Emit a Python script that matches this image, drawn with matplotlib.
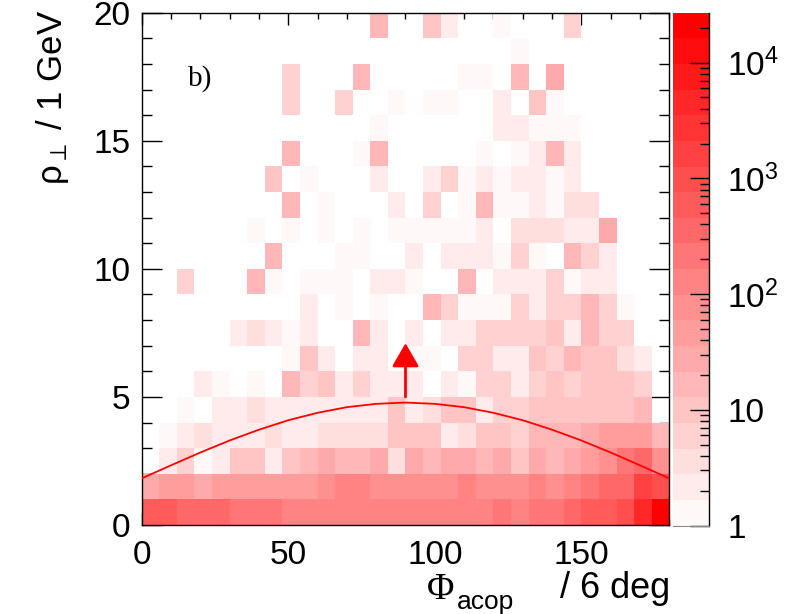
import numpy as np
import matplotlib
matplotlib.use("Agg")
import matplotlib.pyplot as plt
from matplotlib.colors import ListedColormap, LogNorm
from matplotlib.ticker import MultipleLocator, FixedLocator, FixedFormatter, LogLocator, NullFormatter

plt.rcParams['font.family'] = ['Liberation Sans', 'DejaVu Sans']
plt.rcParams['mathtext.fontset'] = 'custom'
plt.rcParams['mathtext.rm'] = 'Liberation Sans'
plt.rcParams['mathtext.it'] = 'Liberation Sans:italic'

# ---- data: counts per (pT bin row j = 0..19, phi bin column i = 0..29) ----
phi_edges = np.arange(0, 181, 6)
pt_edges = np.arange(0, 21, 1)

row00 = [580,580,350,350,350,210,210,210,125,125,125,125,125,125,125, 125,125,125,125,125,210,125,210,210,350,580,580,950,4400,27000]
row01 = [27,45,45,27,45,45,45,45,45,45,75,125,125,75,75, 75,75,75,125,75,75,75,125,75,125,210,350,350,1600,950]
row02 = [0,2,6,1,2,10,10,2,10,16,27,16,16,27,4, 27,16,27,27,16,27,10,27,16,27,45,75,210,350,75]
row03 = [0,1,2,4,2,2,2,4,2,2,4,4,4,4,10, 10,10,2,4,10,10,6,16,16,16,27,45,45,45,16]
row04 = [0,0,1,0,2,2,4,2,2,2,2,2,2,2,10, 2,4,10,10,2,6,6,10,10,10,10,10,10,16,0]
row05 = [0,0,0,2,1,0,1,0,16,6,10,2,6,2,2, 2,0,2,1,6,6,2,6,10,6,10,10,10,6,0]
row06 = [0,0,0,0,0,0,0,0,1,10,2,0,2,2,0, 1,1,0,6,6,2,2,10,6,16,10,10,4,2,0]
row07 = [0,0,0,0,0,2,4,2,1,2,0,0,16,2,0, 2,0,2,2,6,6,6,6,10,2,16,6,6,0,0]
row08 = [0,0,0,0,0,0,0,0,0,2,0,1,0,1,0, 0,16,6,1,1,1,6,2,6,6,16,6,1,0,0]
row09 = [0,0,6,0,0,0,16,1,0,1,1,1,0,2,2, 1,0,0,16,0,2,2,2,6,1,2,2,0,0,0]
row10 = [0,0,0,0,0,0,0,16,0,0,0,1,1,0,0, 2,0,2,2,2,1,6,1,0,16,6,2,0,0,0]
row11 = [0,0,0,0,0,0,1,0,1,0,1,0,1,0,1, 1,1,1,1,2,0,4,4,4,2,2,27,0,0,0]
row12 = [0,0,0,0,0,0,0,0,16,0,1,0,0,0,2, 0,6,0,1,16,1,1,2,1,4,4,0,0,0,0]
row13 = [0,0,0,0,0,0,0,10,0,1,0,0,0,2,0, 0,2,6,1,2,1,2,2,1,2,0,0,0,0,0]
row14 = [0,0,0,0,0,0,0,0,16,0,0,0,1,16,0, 0,0,0,0,1,0,1,2,16,2,0,0,0,0,0]
row15 = [0,0,0,0,0,0,0,0,0,0,0,0,0,1,0, 0,0,0,0,0,2,2,1,1,1,0,0,0,0,0]
row16 = [0,0,0,0,0,0,0,0,6,0,0,6,0,0,1, 0,1,1,0,0,2,0,10,1,0,0,0,0,0,0]
row17 = [0,0,0,0,0,0,0,0,6,0,0,0,16,0,0, 0,0,0,1,1,0,16,0,27,0,0,0,0,0,0]
row18 = [0,0,0,0,0,0,0,0,0,0,0,0,0,0,0, 0,0,0,0,0,0,1,0,0,0,0,0,0,0,0]
row19 = [0,0,0,0,0,0,0,0,0,0,0,0,0,16,0, 0,10,2,0,0,1,0,0,0,6,0,0,0,0,0]

rows = [row00, row01, row02, row03, row04, row05, row06, row07, row08, row09,
        row10, row11, row12, row13, row14, row15, row16, row17, row18, row19]

# cut curve
curve_phi = [0, 10, 20, 30, 40, 50, 60, 70, 80, 90, 100, 110, 120, 130, 140, 150, 160, 170, 180]
curve_pt = [1.82, 2.33, 2.83, 3.30, 3.72, 4.09, 4.38, 4.60, 4.73, 4.78, 4.73, 4.60, 4.38, 4.09, 3.72, 3.30, 2.83, 2.33, 1.82]

arrow_phi = 90
arrow_from = 5.0
arrow_to = 7.1

cbar_ticks = [1, 10, 100, 1000, 10000]
cbar_labels = ['1', '10', '$10^2$', '$10^3$', '$10^4$']
zmax = 27000

# ---- figure ----
W, H = 789, 614
fig = plt.figure(figsize=(W / 100, H / 100), dpi=100)

def fx(px):
    return px / W

def fy(py):
    return 1 - py / H

ax = fig.add_axes([fx(141.7), fy(525), fx(669.3) - fx(141.7), fy(12.7) - fy(525)])
cax = fig.add_axes([fx(673.3), fy(525.5), fx(709) - fx(673.3), fy(12.7) - fy(525.5)])

# ROOT-like white->red palette, 20 contours
ncol = 20
cols = [(1.0, (248 - 13.05 * k) / 255, (248 - 13.05 * k) / 255) for k in range(ncol)]
cmap = ListedColormap(cols)
norm = LogNorm(vmin=1, vmax=zmax)

data = np.ma.masked_less_equal(np.array(rows, dtype=float), 0)
mesh = ax.pcolormesh(phi_edges, pt_edges, data, cmap=cmap, norm=norm,
                     edgecolors='none', antialiased=False, zorder=1)

ax.plot(curve_phi, curve_pt, color='red', lw=1.3, zorder=3)
ax.annotate('', xy=(arrow_phi, arrow_to), xytext=(arrow_phi, arrow_from),
            arrowprops=dict(arrowstyle='-|>,head_length=0.4,head_width=0.23',
                            color='red', lw=2.0, mutation_scale=36,
                            shrinkA=0, shrinkB=0), zorder=4)

ax.set_xlim(0, 180)
ax.set_ylim(0, 20)
ax.set_axisbelow(True)

ax.xaxis.set_major_locator(FixedLocator([0, 50, 100, 150]))
ax.xaxis.set_minor_locator(MultipleLocator(10))
ax.yaxis.set_major_locator(FixedLocator([0, 5, 10, 15, 20]))
ax.yaxis.set_minor_locator(MultipleLocator(1))

ax.tick_params(axis='x', which='major', direction='in', length=8.6, width=1,
               top=True, bottom=True, labelsize=24, pad=11)
ax.tick_params(axis='x', which='minor', direction='in', length=4.3, width=1,
               top=True, bottom=True)
ax.tick_params(axis='y', which='major', direction='in', length=14.4, width=1,
               left=True, right=True, labelsize=24, pad=8)
ax.tick_params(axis='y', which='minor', direction='in', length=7.2, width=1,
               left=True, right=True)
for s in ax.spines.values():
    s.set_linewidth(1.0)
    s.set_color('black')

# colorbar
cb = fig.colorbar(mesh, cax=cax)
cb.outline.set_visible(False)
cax.yaxis.set_major_locator(FixedLocator(cbar_ticks))
cax.yaxis.set_major_formatter(FixedFormatter(cbar_labels))
cax.yaxis.set_minor_locator(LogLocator(base=10, subs=range(2, 10)))
cax.yaxis.set_minor_formatter(NullFormatter())
cax.tick_params(axis='y', which='major', direction='in', length=13.7, width=1,
                right=True, left=False, labelsize=24, pad=13)
cax.tick_params(axis='y', which='minor', direction='in', length=6.5, width=1,
                right=True, left=False)
cax.plot([1, 1], [0, 1], transform=cax.transAxes, color='black', lw=1.0, clip_on=False)
cax.plot([0, 1], [0, 0], transform=cax.transAxes, color='#888888', lw=0.8, clip_on=False)

# labels
fig.text(fx(62), fy(10), 'ρ$_{\\perp}$ / 1 GeV', rotation=90, rotation_mode='anchor',
         ha='right', va='baseline', fontsize=25)
fig.text(fx(427), fy(599), 'Φ', family=['Liberation Serif', 'DejaVu Serif'],
         fontsize=27, ha='left', va='baseline')
fig.text(fx(457), fy(609), 'acop', fontsize=19, ha='left', va='baseline')
fig.text(fx(670), fy(598), '/ 6 deg', fontsize=26, ha='right', va='baseline')
fig.text(fx(188), fy(86), 'b)', family=['Liberation Serif', 'DejaVu Serif'],
         fontsize=21, ha='left', va='baseline')

fig.savefig('out.png', dpi=100)
